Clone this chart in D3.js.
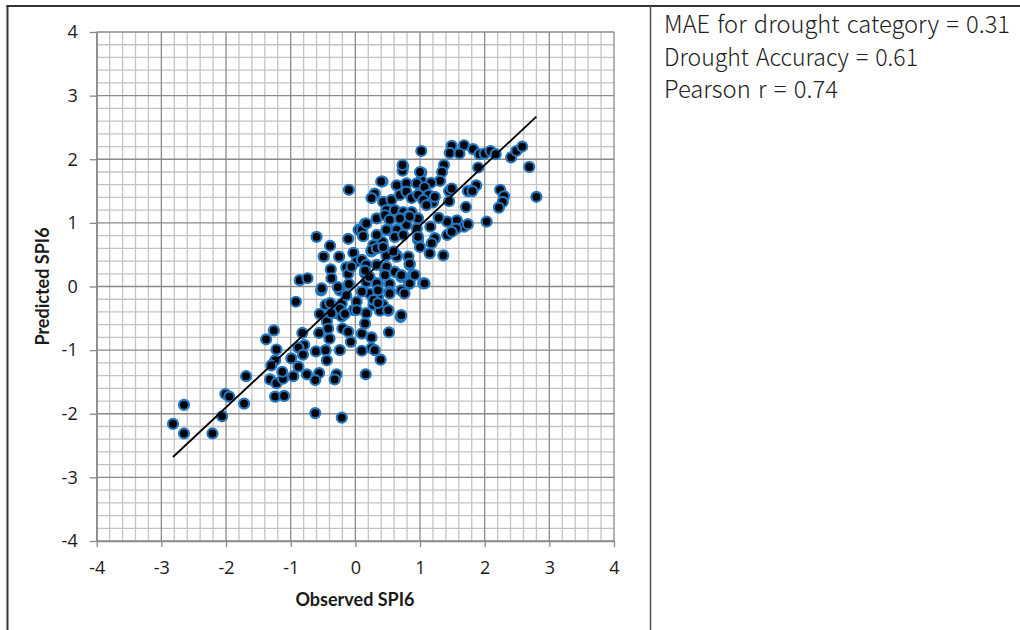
<!DOCTYPE html>
<html>
<head>
<meta charset="utf-8">
<script src="https://cdn.jsdelivr.net/npm/d3@7"></script>
<style>
  body { margin: 0; background: #fff; }
  svg { display: block; }
</style>
</head>
<body>
<svg id="chart" width="1020" height="630"></svg>
<script>
// Observed vs predicted SPI6: [observed, predicted]
const spiPairs = [
  [-2.82,-2.16],[-2.65,-1.86],[-2.65,-2.31],[-2.21,-2.31],[-2.06,-2.04],[-2.01,-1.69],[-1.95,-1.73],[-1.72,-1.84],
  [-1.69,-1.41],[-1.24,-1.73],[-1.10,-1.72],[-1.32,-1.46],[-1.22,-1.52],[-1.12,-1.45],[-0.96,-1.41],[-0.62,-1.99],
  [-0.21,-2.06],[-0.92,-0.24],[-0.53,-0.06],[-0.24,-0.06],[-0.46,-0.29],[-0.39,-0.26],[-0.21,-0.27],[-0.55,-0.43],
  [-0.29,-0.42],[-0.21,-0.47],[-0.03,-0.37],[-0.44,-0.55],[-0.42,-0.66],[-0.20,-0.66],[-0.11,-0.71],[-0.56,-0.73],
  [-0.40,-0.82],[-1.26,-0.69],[-1.38,-0.83],[-0.82,-0.73],[-0.79,-0.92],[-0.88,-0.96],[-1.22,-0.99],[-0.61,-1.02],
  [-0.46,-1.00],[-0.24,-1.00],[-0.07,-0.87],[-0.81,-1.07],[-1.24,-1.16],[-0.99,-1.13],[-0.44,-1.16],[-1.30,-1.24],
  [-0.88,-1.26],[-1.13,-1.34],[-0.75,-1.38],[-0.56,-1.36],[-0.29,-1.38],[-0.62,-1.47],[-0.32,-1.46],
  [-0.10,1.52],[-0.60,0.78],[-0.39,0.64],[-0.11,0.75],[-0.49,0.47],[-0.25,0.47],[-0.03,0.53],[-0.38,0.27],
  [-0.14,0.30],[-0.86,0.10],[-0.74,0.13],[-0.37,0.13],[-0.11,0.20],[-0.52,-0.03],[-0.27,-0.01],[-0.10,0.04],
  [0.02,0.39],[0.05,0.89],
  [1.02,2.13],[1.49,2.21],[1.68,2.22],[1.46,2.10],[1.61,2.09],[1.82,2.16],[1.92,2.08],[2.00,2.09],[2.09,2.13],
  [2.17,2.08],[2.41,2.03],[2.49,2.13],[2.58,2.20],[2.69,1.88],[2.80,1.41],[2.24,1.52],[2.30,1.42],[2.28,1.33],
  [2.22,1.24],[2.03,1.02],[1.71,1.25],[1.90,1.87],[1.87,1.59],[1.74,1.50],[1.81,1.50],[1.45,1.50],[1.49,1.54],
  [1.45,1.34],[1.42,1.02],[1.57,1.04],[1.68,0.94],[1.74,0.98],[1.56,0.91],[1.42,0.81],[1.49,0.86],[1.29,1.08],
  [1.16,0.94],[1.23,0.76],[1.18,0.68],[1.15,0.52],[1.36,0.49],[1.37,1.91],[1.34,1.80],[1.31,1.66],[1.17,1.63],
  [1.02,1.79],[1.02,1.67],[0.74,1.89],[0.73,1.82],[0.42,1.65],[0.64,1.59],[0.79,1.62],[0.95,1.62],[1.07,1.56],
  [0.30,1.46],[0.25,1.39],[0.43,1.33],[0.56,1.36],[0.69,1.44],[0.79,1.49],[0.87,1.39],[0.97,1.44],[1.13,1.44],
  [1.05,1.36],[1.20,1.32],[1.10,1.28],[0.48,1.20],[0.61,1.20],[0.74,1.17],[0.87,1.17],[0.15,0.99],[0.33,1.07],
  [0.46,1.12],[0.68,1.07],[0.82,1.11],[0.97,1.07],[0.51,0.89],[0.64,0.89],[0.79,0.97],[0.95,0.91],[0.10,0.89],
  [0.12,0.79],[0.28,0.65],[0.42,0.70],[0.61,0.78],[0.97,0.73],[1.00,0.62],[0.25,0.55],[0.48,0.49],[0.64,0.49],
  [0.82,0.47],[0.10,0.42],[0.17,0.34],[0.33,0.34],[0.46,0.26],[0.61,0.23],[0.71,0.15],[0.84,0.34],[0.89,0.18],
  [1.05,0.05],[0.15,0.21],[0.17,0.07],[0.35,0.05],[0.53,0.04],[0.83,0.04],[1.23,1.41],
  [0.22,-0.11],[0.35,-0.16],[0.53,-0.08],[0.71,-0.06],[0.28,-0.29],[0.43,-0.29],[0.38,-0.38],[0.51,-0.38],
  [0.70,-0.48],[0.15,-0.58],[0.52,-0.72],[0.10,-0.74],[0.25,-0.80],[0.25,-0.97],[0.30,-1.00],[0.10,-1.01],
  [0.39,-1.15],[0.16,-1.38],
  [0.17,0.99],[-0.06,0.31],[0.25,0.57],[0.33,0.60],[0.22,0.15],[0.15,0.25],[0.33,0.05],[0.48,0.31],[0.46,0.18],
  [0.64,0.47],[0.71,0.18],[0.84,0.36],[0.84,0.05],[0.92,0.18],[1.07,0.05],[-0.14,-0.14],[0.02,-0.24],[0.10,-0.08],
  [0.28,-0.21],[0.35,-0.06],[0.53,-0.11],[0.76,-0.11],[-0.24,-0.35],[-0.37,-0.42],[-0.16,-0.43],[0.02,-0.37],
  [0.17,-0.42],[0.35,-0.26],[0.51,-0.37],[0.71,-0.45],[0.73,1.91],[1.00,1.80],[0.40,1.65],[0.33,0.81],[0.48,0.89],
  [0.53,1.05],[0.69,1.07],[0.84,1.10],[0.74,0.81],[0.97,0.78],[0.59,0.55],[0.43,0.62]
];

// fitted line end points
const fitX = [-2.82, 2.80];
const fitY = [-2.68, 2.67];

const axisTicks = [-4, -3, -2, -1, 0, 1, 2, 3, 4];
const statLines = [
  "MAE for drought category = 0.31",
  "Drought Accuracy = 0.61",
  "Pearson r = 0.74"
];

const svg = d3.select("#chart");

const x = d3.scaleLinear().domain([-4, 4]).range([96.7, 614]);
const y = d3.scaleLinear().domain([-4, 4]).range([541, 32]);

//Minor grid every 0.2 (skipping integers), major at integers
const minor = d3.range(-20, 21).filter(d => d % 5 !== 0).map(d => d / 5);
const grid = svg.append("g");

grid.selectAll(".vmin").data(minor).enter().append("line")
    .attr("x1", d => x(d)).attr("x2", d => x(d))
    .attr("y1", y(-4)).attr("y2", y(4))
    .attr("stroke", "#c4c4c4").attr("stroke-width", 1.3);
grid.selectAll(".hmin").data(minor).enter().append("line")
    .attr("y1", d => y(d)).attr("y2", d => y(d))
    .attr("x1", x(-4)).attr("x2", x(4))
    .attr("stroke", "#c4c4c4").attr("stroke-width", 1.3);
grid.selectAll(".vmaj").data(axisTicks).enter().append("line")
    .attr("x1", d => x(d)).attr("x2", d => x(d))
    .attr("y1", y(-4)).attr("y2", y(4))
    .attr("stroke", "#8a8a8a").attr("stroke-width", 1.3);
grid.selectAll(".hmaj").data(axisTicks).enter().append("line")
    .attr("y1", d => y(d)).attr("y2", d => y(d))
    .attr("x1", x(-4)).attr("x2", x(4))
    .attr("stroke", "#8a8a8a").attr("stroke-width", 1.3);

//Axes, plain hyphen minus like the original
const fmt = d => String(d);
const xAxis = svg.append("g")
    .attr("transform", `translate(0,${y(-4)})`)
    .call(d3.axisBottom(x).tickValues(axisTicks).tickFormat(fmt).tickSize(6).tickPadding(14).tickSizeOuter(0));
const yAxis = svg.append("g")
    .attr("transform", `translate(${x(-4)},0)`)
    .call(d3.axisLeft(y).tickValues(axisTicks).tickFormat(fmt).tickSize(7).tickPadding(12).tickSizeOuter(0));
[xAxis, yAxis].forEach(a => {
    a.select(".domain").attr("stroke", "#8a8a8a").attr("stroke-width", 1.3);
    a.selectAll(".tick line").attr("stroke", "#8a8a8a").attr("stroke-width", 1.3);
    a.selectAll(".tick text")
        .style("font-family", "\"Open Sans\", Lato, sans-serif")
        .style("font-size", "18px")
        .style("fill", "#1a1a1a");
});

//Points
svg.append("g").selectAll("circle")
    .data(spiPairs)
    .enter()
    .append("circle")
    .attr("cx", d => x(d[0]))
    .attr("cy", d => y(d[1]))
    .attr("r", 5)
    .attr("fill", "#000")
    .attr("stroke", "#2277c0")
    .attr("stroke-width", 2.2);

//Fit line
svg.append("line")
    .attr("x1", x(fitX[0])).attr("y1", y(fitY[0]))
    .attr("x2", x(fitX[1])).attr("y2", y(fitY[1]))
    .attr("stroke", "#000").attr("stroke-width", 1.8);

//Axis titles
svg.append("text")
    .attr("x", 355).attr("y", 606)
    .attr("text-anchor", "middle")
    .style("font-family", "Lato, sans-serif").style("font-weight", "bold").style("font-size", "18px")
    .style("fill", "#1a1a1a")
    .text("Observed SPI6");
svg.append("text")
    .attr("transform", `translate(49,${(y(-4) + y(4)) / 2}) rotate(-90)`)
    .attr("text-anchor", "middle")
    .style("font-family", "Lato, sans-serif").style("font-weight", "bold").style("font-size", "18px")
    .style("fill", "#1a1a1a")
    .text("Predicted SPI6");

//Frame lines
svg.append("line").attr("x1", 7.5).attr("x2", 7.5).attr("y1", 5).attr("y2", 630)
    .attr("stroke", "#333").attr("stroke-width", 2);
svg.append("line").attr("x1", 6.5).attr("x2", 1020).attr("y1", 6).attr("y2", 6)
    .attr("stroke", "#333").attr("stroke-width", 2);
svg.append("line").attr("x1", 650.5).attr("x2", 650.5).attr("y1", 6).attr("y2", 630)
    .attr("stroke", "#555").attr("stroke-width", 1.5);

//Stats text
const statWidths = [346, 254, 174];
svg.append("g").selectAll("text")
    .data(statLines)
    .enter()
    .append("text")
    .attr("x", 664)
    .attr("y", (d, i) => 33 + i * 32.5)
    .attr("textLength", (d, i) => statWidths[i])
    .attr("lengthAdjust", "spacingAndGlyphs")
    .style("font-family", "\"Noto Sans CJK KR\", sans-serif")
    .style("font-weight", 300)
    .style("font-size", "24px")
    .style("word-spacing", "2px")
    .style("fill", "#222")
    .text(d => d);
</script>
</body>
</html>
